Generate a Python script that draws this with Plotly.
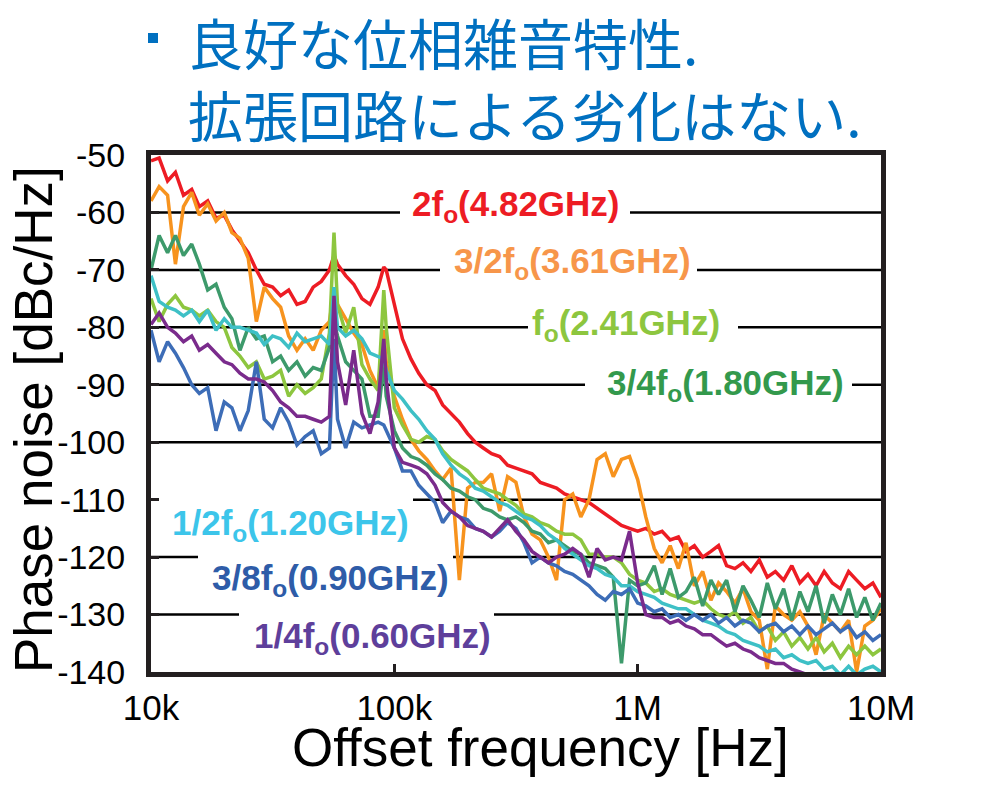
import plotly.graph_objects as go

# ---------------- data ----------------
freq_khz = [10.0, 10.8, 11.7, 12.6, 13.6, 14.7, 15.8, 17.1, 18.5, 20.0, 21.5, 23.2, 25.1, 27.1,
            29.2, 31.6, 34.1, 36.8, 39.8, 43.0, 46.4, 50.1, 54.1, 56.5, 58.4, 63.1, 68.1, 73.6,
            79.4, 85.8, 90.5, 92.6, 100, 108, 117, 126, 136, 147, 158, 171, 185, 200, 215, 232,
            251, 271, 292, 316, 341, 368, 398, 430, 464, 501, 541, 584, 631, 681, 736, 794, 858,
            926, 1000, 1080, 1170, 1260, 1360, 1470, 1580, 1710, 1850, 2000, 2150, 2320, 2510,
            2710, 2920, 3160, 3410, 3680, 3980, 4300, 4640, 5010, 5410, 5840, 6310, 6810, 7360,
            7940, 8580, 9260, 10000]

pn_2fo = [-51, -50.5, -54.5, -53, -57, -56, -59, -58, -61, -60.5, -63, -65, -67, -70, -72.5, -73,
          -74.5, -73.5, -76, -75.5, -73, -72, -70,
          -67.5,
          -69, -71, -72.5, -75, -76, -73,
          -69.5,
          -70, -76, -82, -85.5, -88, -90, -91, -93.5, -95, -96.5, -98.5, -100, -101, -102, -102.5,
          -104, -104.5, -105, -105.5, -107, -107.5, -108, -109, -109.5, -110, -110.5, -111.5,
          -112.5, -113.5, -114.5, -115, -115.5, -115, -116, -115.5, -117, -116.5, -119, -118,
          -120, -119, -118, -121.5, -122, -121, -122.5, -120.5, -123.5, -122.5, -124, -121.5,
          -124.5, -123, -125, -122.5, -124.5, -125.5, -122.5, -124, -125.5, -124.5, -127]

pn_3_2fo = [-58, -55.5, -57, -69, -59, -56.5, -60.5, -58.5, -61.5, -60, -63.5, -64.5, -68, -79,
            -73, -75, -76.5, -81.5, -84, -82, -84, -80.5, -79,
            -73.5,
            -76, -78.5, -81, -83, -87.5, -90.5,
            -80.5,
            -86, -92, -96, -99.5, -101.5, -103, -105, -106.5, -104.5, -124, -108, -107, -107,
            -105.5, -112, -106, -107, -113, -116, -117, -120, -124, -110, -109, -113, -110,
            -103, -102, -106, -103, -102.5, -106.5, -113, -118.5, -121, -118, -122, -117.5,
            -125, -122.5, -127.5, -124.5, -126, -128, -125.5, -129.5, -131, -139.5, -128.5,
            -130, -131, -129.5, -132, -137, -130, -131.5, -133, -131, -140, -132, -131, -129]

pn_fo = [-75, -79, -76, -74.5, -76.5, -77, -78, -77, -79, -80, -83.5, -85, -87, -86, -89, -88.5,
         -87.5, -92, -90, -91.5, -90.5, -89, -81,
         -63.5,
         -76, -81, -76.5, -86.5, -89, -91,
         -73.5,
         -80, -94, -97, -99.5, -100, -99, -99.5, -101.5, -103, -104, -105, -106.5, -108, -108.5,
         -109, -110, -111, -112.5, -113, -114, -114.5, -115.5, -116, -116, -117, -119.5, -119.5,
         -120, -120, -121, -123, -124, -124.5, -126, -125.5, -126.5, -127, -127.5, -128, -127.5,
         -129, -130, -130.5, -129.5, -131.5, -130.5, -133, -132, -134.5, -133, -135.5, -134,
         -136, -134, -136.5, -135, -137.5, -135.5, -137, -135.5, -137, -136]

pn_3_4fo = [-70, -64, -67, -64, -67.5, -65.5, -69, -73.5, -72.5, -76.5, -78.5, -84, -80, -82,
            -81.5, -86, -85, -87.5, -86, -88.5, -87, -87.5, -83.5,
            -79,
            -81.5, -86, -87.5, -89, -95.5, -95.5,
            -86,
            -92, -98, -101, -102.5, -103, -104, -105.5, -106.5, -108, -108.5, -109.5, -110,
            -111.5, -112, -113, -113.5, -113, -114, -115.5, -116, -117.5, -117, -118, -119,
            -119.5, -121, -121.5, -122, -123.5, -138.5, -124, -125, -124.5, -121.5, -126.5, -122,
            -127, -126, -123.5, -128.5, -124, -126.5, -124, -129.5, -125, -127.5, -130.5, -124.5,
            -129, -125.5, -131, -126, -129.5, -125, -131.5, -126.5, -130, -125.5, -130.5, -127,
            -131, -128]

pn_1_2fo = [-71, -75.5, -76.5, -77, -78, -77, -79, -77, -80.5, -78.5, -80, -80, -80.5, -81, -83,
            -81.5, -82, -83.5, -81, -82.5, -82, -81.5, -83,
            -73,
            -80, -81.5, -80.5, -82, -84.5, -85,
            -85.5,
            -87.5, -91, -92.5, -94.5, -96, -98, -99.5, -102, -104, -105.5, -106.5, -108, -108.5,
            -109.5, -110.5, -111, -112, -113, -113.5, -114.5, -116, -117, -118.5, -119.5, -120.5,
            -121.5, -122, -123, -123.5, -125, -125, -126, -126.5, -127, -128, -128.5, -129, -129,
            -130, -131, -131.5, -132, -133, -133.5, -134.5, -135, -135.5, -136.5, -136, -137.5,
            -137, -138, -138.5, -138, -139.5, -139, -140.5, -139, -140.5, -139.5, -139, -140]

pn_3_8fo = [-80.5, -86, -82.5, -84.5, -87, -90, -91.5, -90.5, -98, -93, -94, -98, -94.5, -86,
            -96, -97.5, -94, -96.5, -100.5, -99, -98, -102, -101,
            -82,
            -96, -101, -96.5, -97.5, -97, -96.5,
            -97,
            -98, -101, -105, -105, -107.5, -109, -110.5, -114, -112, -113, -113.5, -115, -115.5,
            -116.5, -115.5, -114, -115, -117.5, -121, -120, -121, -121.5, -122.5, -123, -124,
            -125, -126.5, -127.5, -126, -126.5, -125.5, -128, -128.5, -129.5, -129, -130.5, -130,
            -131, -130, -131, -130, -131.5, -130.5, -132, -131, -131.5, -133, -132, -131.5, -133,
            -132, -133.5, -132, -133.5, -132.5, -131.5, -133, -132, -134, -133, -134.5, -133.5]

pn_1_4fo = [-79.5, -77.5, -80, -81, -82.5, -81.5, -84, -83, -84.5, -86, -86.5, -88, -89, -89,
            -89.5, -91, -93, -94, -95.5, -95.5, -96, -96.5, -95.5,
            -74.5,
            -86, -93.5, -84, -95, -98.5, -93,
            -82,
            -89, -101, -103.5, -104, -104.5, -105.5, -107.5, -110.5, -112, -113, -114.5, -115,
            -115.5, -116.5, -115, -113.5, -115.5, -117, -119, -120, -121, -120, -119.5, -118.5,
            -119.5, -123.5, -118.5, -120.5, -120, -120.5, -115.5, -124.5, -130, -130.5, -130.5,
            -131.5, -131, -132, -132.5, -133.5, -133.5, -134.5, -135.5, -135, -136, -136.5,
            -137.5, -138, -138.5, -138.5, -139.5, -140, -140.5, -141, -141, -141.5, -141.5, -142,
            -142, -142.5, -142.5, -143]

series_names = ["2f<sub>o</sub>(4.82GHz)", "3/2f<sub>o</sub>(3.61GHz)", "f<sub>o</sub>(2.41GHz)",
                "3/4f<sub>o</sub>(1.80GHz)", "1/2f<sub>o</sub>(1.20GHz)", "3/8f<sub>o</sub>(0.90GHz)",
                "1/4f<sub>o</sub>(0.60GHz)"]
series_values = [pn_2fo, pn_3_2fo, pn_fo, pn_3_4fo, pn_1_2fo, pn_3_8fo, pn_1_4fo]

x_tick_vals = [1e4, 1e5, 1e6, 1e7]
x_tick_text = ["10k", "100k", "1M", "10M"]
y_tick_vals = [-50, -60, -70, -80, -90, -100, -110, -120, -130, -140]
y_tick_text = ["-50", "-60", "-70", "-80", "-90", "-100", "-110", "-120", "-130", "-140"]

title_lines = ["良好な位相雑音特性.", "拡張回路による劣化はない."]

# ---------------- style ----------------
line_colors = ["#ED1C24", "#F7931E", "#8DC63F", "#3D9A6B", "#3EC0C6", "#3D6DB7", "#7A2B8C"]
label_colors = ["#ED1C24", "#F7964A", "#8DC63F", "#33994C", "#3CC5EA", "#2E5CA8", "#5E3F9B"]
# label anchor (left px, centre px) in page pixels
label_pos = [(410, 206), (452, 263), (530, 325), (605, 385), (170, 525), (210, 580), (252, 638)]

W, H = 983, 785
BODY = 8                      # default page margin of the html body
PL, PR, PT, PB = 151, 881, 155, 672   # plot area in page pixels
ML, MT = PL - BODY, PT - BODY
MR, MB = W - (PR - BODY), H - (PB - BODY)
PW, PH = PR - PL, PB - PT


def px_x(px):
    return (px - PL) / PW


def px_y(py):
    return (PB - py) / PH


freq_hz = [f * 1000 for f in freq_khz]

fig = go.Figure()
for name, vals, col in zip(series_names, series_values, line_colors):
    fig.add_trace(go.Scatter(x=freq_hz, y=vals, mode="lines", name=name,
                             line=dict(color=col, width=3.5), showlegend=False,
                             hoverinfo="skip"))

# broken horizontal grid lines (gaps where the labels sit)
grid_segments = [(-60, 151, 400), (-60, 630, 881), (-70, 151, 440), (-70, 697, 881),
                 (-80, 151, 528), (-80, 738, 881), (-90, 151, 585), (-90, 852, 881),
                 (-100, 151, 881), (-110, 413, 881), (-120, 151, 198), (-120, 453, 881),
                 (-130, 151, 239), (-130, 494, 881)]
shapes = []
for yv, a, b in grid_segments:
    shapes.append(dict(type="line", xref="paper", yref="y", x0=px_x(a), x1=px_x(b),
                       y0=yv, y1=yv, line=dict(color="#000000", width=2.5), layer="below"))
# bullet square
shapes.append(dict(type="rect", xref="paper", yref="paper", x0=px_x(148), x1=px_x(158),
                   y0=px_y(43), y1=px_y(33), fillcolor="#0070C0", line=dict(width=0)))

annotations = []
for name, col, (lx, ly) in zip(series_names, label_colors, label_pos):
    annotations.append(dict(xref="paper", yref="paper", x=px_x(lx), y=px_y(ly),
                            xanchor="left", yanchor="middle", showarrow=False,
                            text="<b>" + name + "</b>",
                            font=dict(family="Liberation Sans, Arial", size=35, color=col)))

annotations.append(dict(xref="paper", yref="paper", x=px_x(186), y=px_y(77),
                        xanchor="left", yanchor="middle", align="left", showarrow=False,
                        text="<br>".join(title_lines),
                        font=dict(family="Noto Sans CJK JP", size=55, color="#0070C0")))
annotations.append(dict(xref="paper", yref="paper", x=px_x(540), y=px_y(747),
                        xanchor="center", yanchor="middle", showarrow=False,
                        text="Offset frequency [Hz]",
                        font=dict(family="Liberation Sans, Arial", size=53, color="#000000")))
annotations.append(dict(xref="paper", yref="paper", x=px_x(33), y=px_y(420),
                        xanchor="center", yanchor="middle", showarrow=False, textangle=-90,
                        text="Phase noise [dBc/Hz]",
                        font=dict(family="Liberation Sans, Arial", size=53, color="#000000")))

fig.update_layout(
    width=W, height=H, margin=dict(l=ML, r=MR, t=MT, b=MB, pad=0),
    paper_bgcolor="white", plot_bgcolor="white",
    shapes=shapes, annotations=annotations,
    xaxis=dict(type="log", range=[4, 7], tickvals=x_tick_vals, ticktext=x_tick_text,
               showgrid=False, zeroline=False, showline=True, linewidth=5, linecolor="#231F20",
               mirror=True, ticks="inside", ticklen=8, tickwidth=3, tickcolor="#231F20",
               ticklabelstandoff=1,
               tickfont=dict(family="Liberation Sans, Arial", size=35, color="#000000")),
    yaxis=dict(range=[-140, -50], tickvals=y_tick_vals, ticktext=y_tick_text,
               showgrid=False, zeroline=False,
               showline=True, linewidth=5, linecolor="#231F20", mirror=True,
               ticks="inside", ticklen=8, tickwidth=3, tickcolor="#231F20",
               ticklabelstandoff=14,
               tickfont=dict(family="Liberation Sans, Arial", size=34, color="#000000")),
)

fig.write_html("out.html")
